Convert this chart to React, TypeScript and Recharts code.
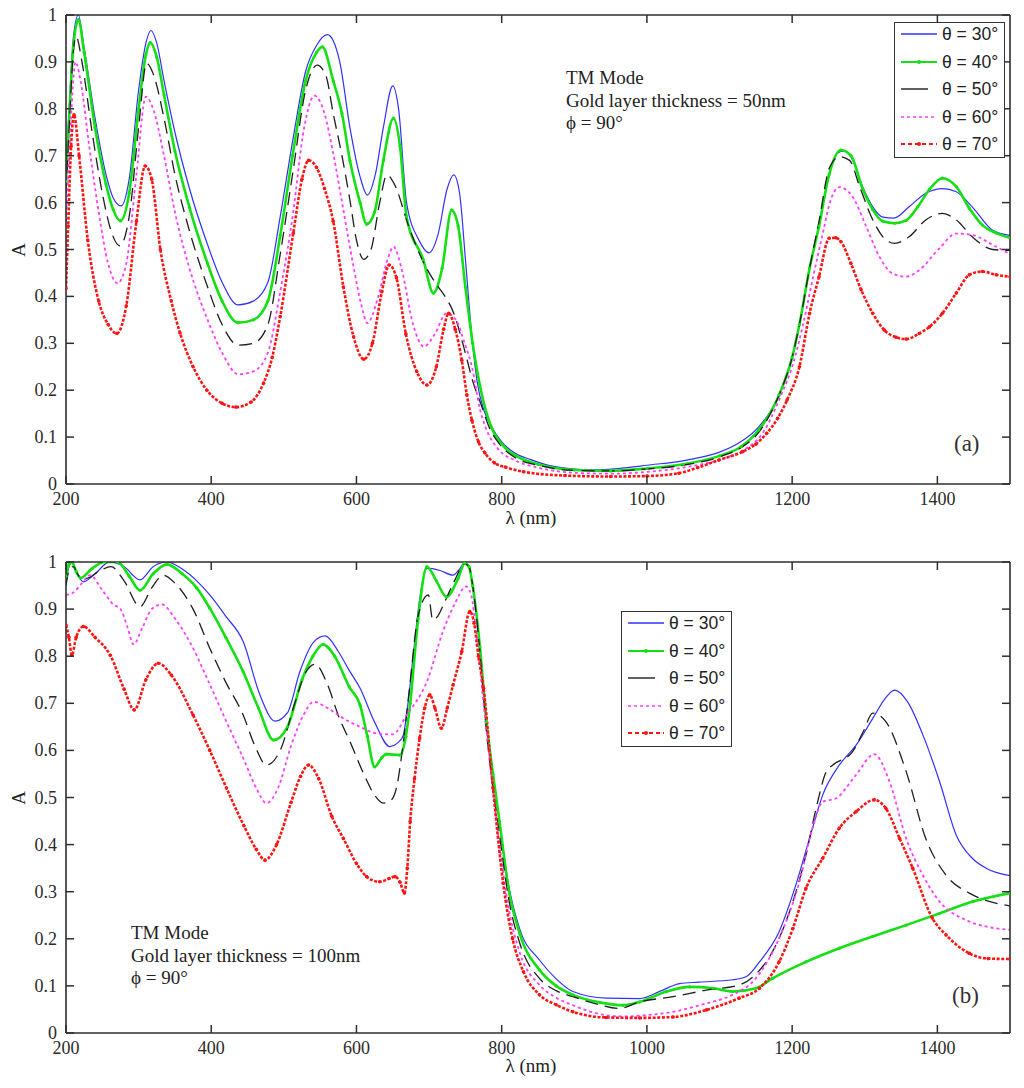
import React from 'react';
import { LineChart, Line, XAxis, YAxis } from 'recharts';

type Pt = [number, number];

const xTicks = [200, 400, 600, 800, 1000, 1200, 1400];
const yTicks = [0, 0.1, 0.2, 0.3, 0.4, 0.5, 0.6, 0.7, 0.8, 0.9, 1];
const xDomain: [number, number] = [200, 1500];
const seriesNames = ['θ = 30°', 'θ = 40°', 'θ = 50°', 'θ = 60°', 'θ = 70°'];
const noteA = ['TM Mode', 'Gold layer thickness = 50nm', 'ϕ = 90°'];
const noteB = ['TM Mode', 'Gold layer thickness = 100nm', 'ϕ = 90°'];
const xTitle = 'λ (nm)';
const yTitle = 'A';

// ---- Panel (a): gold layer 50 nm ----
const a30: Pt[] = [
  [200, 0.68], [205, 0.82], [210, 0.95], [217, 1.0], [225, 0.93], [240, 0.78], [255, 0.66], [265, 0.61], [276, 0.593],
  [287, 0.65], [300, 0.84], [310, 0.94], [317, 0.967], [325, 0.94], [335, 0.86], [350, 0.75], [370, 0.63], [395, 0.51],
  [415, 0.43], [437, 0.382], [458, 0.39], [478, 0.43], [495, 0.57], [512, 0.73], [530, 0.88], [545, 0.935], [560, 0.958],
  [568, 0.945], [577, 0.9], [591, 0.76], [605, 0.655], [615, 0.616], [626, 0.66], [637, 0.76], [650, 0.849], [658, 0.8],
  [669, 0.6], [686, 0.52], [700, 0.493], [712, 0.53], [725, 0.63], [734, 0.659], [742, 0.62], [750, 0.48], [758, 0.33],
  [766, 0.22], [776, 0.155], [786, 0.122], [800, 0.09], [818, 0.066], [840, 0.052], [870, 0.038], [900, 0.032], [930, 0.03],
  [960, 0.033], [1000, 0.04], [1055, 0.051], [1100, 0.068], [1127, 0.088], [1154, 0.122], [1182, 0.19], [1200, 0.27],
  [1210, 0.34], [1224, 0.46], [1237, 0.55], [1251, 0.66], [1262, 0.705], [1272, 0.71], [1281, 0.698], [1297, 0.634],
  [1311, 0.591], [1325, 0.569], [1340, 0.567], [1361, 0.591], [1384, 0.62], [1407, 0.63], [1426, 0.623], [1448, 0.591],
  [1476, 0.541], [1500, 0.53],
];
const a40: Pt[] = [
  [200, 0.645], [205, 0.8], [210, 0.93], [217, 0.99], [225, 0.92], [240, 0.76], [255, 0.64], [265, 0.585], [275, 0.561],
  [287, 0.62], [300, 0.8], [310, 0.915], [316, 0.941], [325, 0.91], [335, 0.83], [350, 0.71], [370, 0.59], [395, 0.47],
  [415, 0.39], [437, 0.344], [458, 0.35], [478, 0.39], [495, 0.53], [512, 0.7], [530, 0.86], [545, 0.92], [553, 0.932],
  [568, 0.86], [580, 0.79], [591, 0.69], [605, 0.6], [614, 0.554], [625, 0.58], [637, 0.69], [651, 0.78], [660, 0.72],
  [669, 0.57], [692, 0.478], [706, 0.407], [718, 0.46], [731, 0.584], [740, 0.55], [750, 0.42], [760, 0.3], [770, 0.21],
  [786, 0.12], [800, 0.085], [820, 0.06], [850, 0.042], [900, 0.03], [950, 0.028], [1000, 0.033], [1050, 0.042],
  [1100, 0.06], [1130, 0.08], [1154, 0.115], [1182, 0.19], [1200, 0.27], [1210, 0.34], [1224, 0.46], [1237, 0.55],
  [1251, 0.66], [1267, 0.712], [1281, 0.7], [1297, 0.63], [1311, 0.585], [1325, 0.56], [1341, 0.556], [1357, 0.562],
  [1373, 0.591], [1389, 0.628], [1407, 0.652], [1426, 0.634], [1444, 0.588], [1462, 0.552], [1481, 0.535], [1500, 0.525],
];
const a50: Pt[] = [
  [200, 0.62], [205, 0.78], [210, 0.92], [214, 0.954], [222, 0.9], [235, 0.76], [250, 0.62], [262, 0.54], [274, 0.508],
  [287, 0.57], [300, 0.76], [311, 0.897], [320, 0.875], [335, 0.78], [350, 0.66], [370, 0.54], [395, 0.42], [415, 0.34],
  [437, 0.296], [458, 0.3], [478, 0.34], [495, 0.49], [512, 0.66], [530, 0.84], [546, 0.893], [558, 0.87], [568, 0.79],
  [580, 0.7], [591, 0.605], [600, 0.52], [610, 0.479], [620, 0.5], [632, 0.6], [642, 0.659], [652, 0.64], [672, 0.549],
  [690, 0.48], [709, 0.428], [722, 0.4], [734, 0.364], [750, 0.279], [760, 0.22], [771, 0.172], [783, 0.12], [796, 0.087],
  [820, 0.055], [850, 0.04], [900, 0.029], [950, 0.028], [1000, 0.032], [1050, 0.04], [1100, 0.058], [1130, 0.078],
  [1154, 0.11], [1182, 0.19], [1200, 0.27], [1210, 0.34], [1224, 0.46], [1237, 0.56], [1251, 0.673], [1265, 0.698],
  [1279, 0.69], [1293, 0.634], [1309, 0.57], [1325, 0.527], [1341, 0.513], [1361, 0.527], [1384, 0.563], [1407, 0.577],
  [1426, 0.563], [1448, 0.527], [1476, 0.5], [1500, 0.498],
];
const a60: Pt[] = [
  [200, 0.56], [205, 0.72], [210, 0.86], [213, 0.9], [220, 0.86], [232, 0.72], [245, 0.58], [258, 0.47], [271, 0.428],
  [283, 0.47], [297, 0.66], [310, 0.826], [320, 0.8], [335, 0.7], [350, 0.58], [370, 0.46], [395, 0.35], [415, 0.28],
  [437, 0.234], [458, 0.24], [478, 0.28], [495, 0.41], [512, 0.57], [528, 0.76], [542, 0.828], [556, 0.79], [568, 0.705],
  [582, 0.584], [596, 0.463], [607, 0.38], [615, 0.343], [630, 0.4], [643, 0.48], [651, 0.506], [662, 0.46], [678, 0.34],
  [693, 0.293], [708, 0.32], [724, 0.364], [737, 0.35], [749, 0.3], [759, 0.25], [770, 0.16], [778, 0.12], [795, 0.075],
  [819, 0.05], [850, 0.035], [900, 0.024], [950, 0.022], [1000, 0.026], [1050, 0.035], [1100, 0.052], [1130, 0.07],
  [1160, 0.11], [1185, 0.19], [1200, 0.25], [1215, 0.34], [1230, 0.45], [1243, 0.54], [1251, 0.595], [1265, 0.633],
  [1283, 0.613], [1302, 0.549], [1320, 0.485], [1338, 0.449], [1357, 0.442], [1375, 0.456], [1403, 0.503], [1426, 0.534],
  [1448, 0.531], [1476, 0.51], [1500, 0.49],
];
const a70: Pt[] = [
  [200, 0.417], [203, 0.55], [207, 0.72], [211, 0.787], [218, 0.7], [230, 0.52], [245, 0.39], [258, 0.34], [270, 0.321],
  [283, 0.38], [297, 0.56], [309, 0.678], [318, 0.65], [330, 0.5], [345, 0.39], [357, 0.322], [375, 0.25], [394, 0.2],
  [415, 0.172], [434, 0.164], [455, 0.175], [472, 0.215], [484, 0.27], [495, 0.357], [513, 0.535], [525, 0.65], [534, 0.69],
  [545, 0.675], [556, 0.63], [568, 0.56], [582, 0.42], [596, 0.314], [610, 0.266], [622, 0.3], [635, 0.41], [645, 0.467],
  [655, 0.44], [668, 0.32], [683, 0.24], [697, 0.211], [710, 0.25], [720, 0.33], [727, 0.364], [736, 0.33], [745, 0.264],
  [752, 0.19], [759, 0.136], [768, 0.09], [777, 0.066], [790, 0.045], [805, 0.036], [830, 0.026], [887, 0.018], [950, 0.016],
  [1000, 0.017], [1044, 0.023], [1070, 0.035], [1099, 0.051], [1132, 0.069], [1150, 0.085], [1165, 0.108], [1180, 0.14],
  [1193, 0.179], [1210, 0.25], [1224, 0.364], [1237, 0.442], [1251, 0.524], [1260, 0.525], [1267, 0.517], [1281, 0.47],
  [1295, 0.414], [1311, 0.364], [1327, 0.328], [1343, 0.313], [1357, 0.309], [1375, 0.321], [1389, 0.335], [1407, 0.364],
  [1426, 0.407], [1444, 0.446], [1462, 0.453], [1481, 0.446], [1500, 0.442],
];

// ---- Panel (b): gold layer 100 nm ----
const b30: Pt[] = [
  [200, 0.96], [204, 0.99], [208, 1.0], [215, 0.975], [224, 0.958], [240, 0.975], [260, 1.0], [280, 0.99], [302, 0.962],
  [320, 0.99], [339, 1.0], [360, 0.985], [380, 0.96], [398, 0.93], [420, 0.885], [444, 0.831], [467, 0.718], [488, 0.662],
  [505, 0.68], [522, 0.767], [541, 0.83], [557, 0.843], [575, 0.81], [590, 0.77], [605, 0.732], [625, 0.66], [646, 0.608],
  [656, 0.615], [664, 0.63], [671, 0.7], [678, 0.8], [688, 0.93], [697, 0.987], [715, 0.982], [733, 0.972], [742, 0.985],
  [749, 0.998], [755, 0.99], [760, 0.95], [770, 0.82], [779, 0.661], [788, 0.55], [797, 0.449], [809, 0.318], [825, 0.22],
  [852, 0.155], [875, 0.115], [898, 0.088], [944, 0.074], [990, 0.073], [1020, 0.09], [1045, 0.105], [1072, 0.108],
  [1118, 0.113], [1137, 0.12], [1155, 0.151], [1182, 0.215], [1205, 0.314], [1228, 0.435], [1242, 0.505], [1265, 0.569],
  [1288, 0.611], [1311, 0.668], [1328, 0.71], [1341, 0.728], [1359, 0.703], [1380, 0.633], [1403, 0.534], [1426, 0.42],
  [1448, 0.371], [1467, 0.35], [1500, 0.334],
];
const b40: Pt[] = [
  [200, 0.97], [204, 0.995], [208, 1.0], [214, 0.98], [220, 0.966], [235, 0.985], [253, 1.0], [271, 1.0], [287, 0.97],
  [302, 0.94], [320, 0.975], [339, 0.995], [360, 0.975], [380, 0.945], [398, 0.902], [420, 0.84], [444, 0.767], [465, 0.69],
  [486, 0.622], [505, 0.65], [525, 0.75], [540, 0.8], [554, 0.825], [570, 0.8], [590, 0.735], [605, 0.696], [615, 0.63],
  [625, 0.565], [635, 0.585], [641, 0.592], [660, 0.59], [668, 0.63], [674, 0.7], [685, 0.88], [697, 0.99], [710, 0.96],
  [724, 0.926], [740, 0.965], [749, 0.997], [755, 0.99], [760, 0.95], [770, 0.82], [779, 0.661], [788, 0.55], [797, 0.449],
  [809, 0.31], [825, 0.21], [852, 0.134], [875, 0.1], [898, 0.081], [935, 0.065], [967, 0.059], [990, 0.066], [1027, 0.088],
  [1059, 0.098], [1091, 0.095], [1118, 0.088], [1150, 0.095], [1173, 0.116], [1219, 0.151], [1265, 0.18], [1311, 0.205],
  [1357, 0.229], [1403, 0.254], [1449, 0.279], [1500, 0.297],
];
const b50: Pt[] = [
  [200, 0.95], [205, 0.985], [210, 0.99], [218, 0.97], [228, 0.965], [245, 0.98], [262, 0.99], [280, 0.96], [302, 0.905],
  [318, 0.945], [334, 0.972], [350, 0.955], [375, 0.9], [398, 0.817], [420, 0.745], [444, 0.675], [460, 0.61], [476, 0.569],
  [495, 0.6], [515, 0.7], [530, 0.765], [543, 0.783], [560, 0.74], [576, 0.67], [591, 0.619], [610, 0.55], [625, 0.505],
  [637, 0.488], [648, 0.495], [655, 0.52], [664, 0.61], [673, 0.732], [685, 0.887], [699, 0.93], [705, 0.877], [712, 0.885],
  [720, 0.91], [735, 0.96], [749, 0.996], [755, 0.99], [760, 0.95], [770, 0.81], [779, 0.64], [788, 0.52], [797, 0.42],
  [809, 0.29], [825, 0.19], [852, 0.116], [875, 0.09], [898, 0.077], [930, 0.062], [962, 0.052], [990, 0.066], [1036, 0.077],
  [1082, 0.091], [1127, 0.102], [1150, 0.125], [1173, 0.173], [1201, 0.279], [1219, 0.378], [1233, 0.477], [1247, 0.555],
  [1256, 0.569], [1283, 0.597], [1298, 0.64], [1311, 0.679], [1329, 0.661], [1357, 0.555], [1384, 0.413], [1412, 0.335],
  [1444, 0.297], [1470, 0.28], [1500, 0.27],
];
const b60: Pt[] = [
  [200, 0.93], [210, 0.935], [222, 0.955], [233, 0.972], [250, 0.94], [265, 0.91], [275, 0.9], [285, 0.86], [293, 0.825],
  [305, 0.86], [318, 0.9], [332, 0.91], [350, 0.88], [375, 0.817], [398, 0.74], [421, 0.661], [445, 0.58], [462, 0.52],
  [476, 0.488], [492, 0.52], [510, 0.61], [527, 0.675], [541, 0.703], [560, 0.69], [582, 0.668], [605, 0.65], [628, 0.636],
  [650, 0.634], [669, 0.675], [697, 0.746], [719, 0.852], [735, 0.91], [751, 0.948], [758, 0.93], [765, 0.85], [775, 0.7],
  [785, 0.56], [797, 0.4], [809, 0.27], [825, 0.17], [852, 0.102], [875, 0.075], [898, 0.059], [930, 0.042], [967, 0.035],
  [1000, 0.038], [1036, 0.045], [1082, 0.063], [1118, 0.081], [1150, 0.116], [1182, 0.201], [1210, 0.321], [1228, 0.435],
  [1242, 0.491], [1260, 0.498], [1288, 0.548], [1313, 0.592], [1334, 0.534], [1357, 0.413], [1380, 0.335], [1403, 0.279],
  [1439, 0.24], [1470, 0.225], [1500, 0.219],
];
const b70: Pt[] = [
  [200, 0.866], [204, 0.84], [208, 0.802], [214, 0.84], [224, 0.863], [240, 0.84], [261, 0.802], [280, 0.73], [294, 0.686],
  [310, 0.75], [327, 0.785], [345, 0.76], [375, 0.675], [398, 0.6], [421, 0.52], [445, 0.44], [462, 0.39], [474, 0.367],
  [490, 0.4], [510, 0.49], [523, 0.545], [534, 0.569], [548, 0.54], [566, 0.46], [582, 0.413], [600, 0.36], [614, 0.332],
  [632, 0.321], [645, 0.328], [653, 0.332], [660, 0.32], [666, 0.297], [670, 0.35], [674, 0.449], [680, 0.54], [687, 0.626],
  [694, 0.69], [701, 0.718], [708, 0.69], [717, 0.647], [725, 0.69], [733, 0.739], [745, 0.81], [756, 0.895], [762, 0.87],
  [768, 0.8], [775, 0.732], [788, 0.52], [802, 0.318], [815, 0.2], [830, 0.13], [852, 0.081], [875, 0.06], [898, 0.045],
  [944, 0.033], [990, 0.032], [1036, 0.034], [1082, 0.049], [1127, 0.074], [1155, 0.095], [1182, 0.151], [1201, 0.222],
  [1219, 0.307], [1242, 0.371], [1265, 0.435], [1288, 0.47], [1313, 0.495], [1329, 0.477], [1348, 0.413], [1366, 0.35],
  [1393, 0.244], [1412, 0.208], [1444, 0.169], [1470, 0.158], [1500, 0.157],
];

const panelA = [a30, a40, a50, a60, a70];
const panelB = [b30, b40, b50, b60, b70];

type Sty = { color: string; width: number; dash?: string; dot?: number; legendDash?: string };
const styles: Sty[] = [
  { color: '#3030ff', width: 1.2 },
  { color: '#14e014', width: 2.6, dot: 1.6 },
  { color: '#1e1e1e', width: 1.3, dash: '13 7', legendDash: '27 20' },
  { color: '#ff3cff', width: 1.8, dash: '3 3' },
  { color: '#ff1414', width: 2.6, dash: '3 1.6', dot: 1.8, legendDash: '4 3' },
];

const SERIF = '"Liberation Serif", "Times New Roman", Times, serif';
const SANS = '"Liberation Sans", Arial, Helvetica, sans-serif';
const AX = '#2e2e2e';
const TICK_LEN = 8;
const TICK_W = 1.5;
const PLOT_LEFT = 66;
const PLOT_RIGHT = 1010;

const rows = (pts: Pt[]) => pts.map(([x, y]) => ({ x, y }));

function Panel({ series, top, mTop, mBottom, height }: { series: Pt[][]; top: number; mTop: number; mBottom: number; height: number }) {
  const plotTop = mTop + 1;
  const plotBottom = height - mBottom - 30;

  const bottomTick = (p: any) => (
    <g>
      <path d={`M${p.x},${plotBottom} L${p.x},${plotBottom - TICK_LEN}`} stroke={AX} strokeWidth={TICK_W} fill="none" />
      <text x={p.x} y={plotBottom + 21} textAnchor="middle" fontFamily={SERIF} fontSize={18} fill="#2a2a2a">
        {String(p.payload.value)}
      </text>
    </g>
  );
  const topTick = (p: any) => (
    <path d={`M${p.x},${plotTop} L${p.x},${plotTop + TICK_LEN}`} stroke={AX} strokeWidth={TICK_W} fill="none" />
  );
  const leftTick = (p: any) => (
    <g>
      <path d={`M${PLOT_LEFT},${p.y} L${PLOT_LEFT + TICK_LEN},${p.y}`} stroke={AX} strokeWidth={TICK_W} fill="none" />
      <text x={57} y={p.y + 6} textAnchor="end" fontFamily={SERIF} fontSize={18} fill="#2a2a2a">
        {String(p.payload.value)}
      </text>
    </g>
  );
  const rightTick = (p: any) => (
    <path d={`M${PLOT_RIGHT},${p.y} L${PLOT_RIGHT - TICK_LEN},${p.y}`} stroke={AX} strokeWidth={TICK_W} fill="none" />
  );

  const axisLine = { stroke: AX, strokeWidth: 1.6 };

  return (
    <div style={{ position: 'absolute', left: 0, top, width: 1024, height }}>
      <LineChart width={1024} height={height} margin={{ top: mTop, right: 13, bottom: mBottom, left: 16 }}>
        <XAxis
          xAxisId="b"
          dataKey="x"
          type="number"
          domain={xDomain}
          ticks={xTicks}
          interval={0}
          allowDataOverflow
          height={30}
          tickLine={false}
          axisLine={axisLine}
          tick={bottomTick}
        />
        <XAxis
          xAxisId="t"
          orientation="top"
          dataKey="x"
          type="number"
          domain={xDomain}
          ticks={xTicks}
          interval={0}
          allowDataOverflow
          height={1}
          tickLine={false}
          axisLine={axisLine}
          tick={topTick}
        />
        <YAxis
          yAxisId="l"
          type="number"
          domain={[0, 1]}
          ticks={yTicks}
          interval={0}
          allowDataOverflow
          width={50}
          tickLine={false}
          axisLine={axisLine}
          tick={leftTick}
        />
        <YAxis
          yAxisId="r"
          orientation="right"
          type="number"
          domain={[0, 1]}
          ticks={yTicks}
          interval={0}
          allowDataOverflow
          width={1}
          tickLine={false}
          axisLine={axisLine}
          tick={rightTick}
        />
        {series.map((pts, i) => {
          const s = styles[i];
          return (
            <Line
              key={i}
              xAxisId="b"
              yAxisId="l"
              data={rows(pts)}
              dataKey="y"
              name={seriesNames[i]}
              type="monotone"
              stroke={s.color}
              strokeWidth={s.width}
              strokeDasharray={s.dash}
              dot={s.dot ? { r: s.dot, fill: s.color, stroke: 'none' } : false}
              activeDot={false}
              isAnimationActive={false}
            />
          );
        })}
      </LineChart>
    </div>
  );
}

function LegendBox({ left, top }: { left: number; top: number }) {
  return (
    <div
      style={{
        position: 'absolute',
        left,
        top,
        width: 111,
        height: 136,
        border: '1.6px solid #333',
        background: '#fff',
        boxSizing: 'border-box',
      }}
    >
      {seriesNames.map((n, i) => {
        const s = styles[i];
        return (
          <div
            key={n}
            style={{ position: 'absolute', left: 5, top: 11 + i * 27.5 - 11, height: 22, display: 'flex', alignItems: 'center' }}
          >
            <svg width={38} height={10} style={{ display: 'block' }}>
              <line
                x1={1}
                y1={5}
                x2={37}
                y2={5}
                stroke={s.color}
                strokeWidth={i === 1 || i === 4 ? 1.8 : Math.max(1.4, s.width * 0.8)}
                strokeDasharray={s.legendDash || s.dash}
              />
              {s.dot ? <circle cx={19} cy={5} r={2} fill={s.color} /> : null}
            </svg>
            <span style={{ marginLeft: 4, fontFamily: SANS, fontSize: 17.5, color: '#222', whiteSpace: 'nowrap', lineHeight: '22px' }}>
              {n}
            </span>
          </div>
        );
      })}
    </div>
  );
}

function Note({ left, top, lines }: { left: number; top: number; lines: string[] }) {
  return (
    <div style={{ position: 'absolute', left, top, fontFamily: SERIF, fontSize: 19, lineHeight: '22.5px', color: '#222', whiteSpace: 'nowrap' }}>
      {lines.map((l) => (
        <div key={l}>{l}</div>
      ))}
    </div>
  );
}

function AxisTitles({ plotTop, plotBottom, xTitleTop }: { plotTop: number; plotBottom: number; xTitleTop: number }) {
  const cy = (plotTop + plotBottom) / 2;
  return (
    <>
      <div
        style={{
          position: 'absolute',
          left: 19,
          top: cy,
          transform: 'translate(-50%, -50%) rotate(-90deg)',
          fontFamily: SERIF,
          fontSize: 19,
          color: '#222',
        }}
      >
        {yTitle}
      </div>
      <div
        style={{
          position: 'absolute',
          left: 531,
          top: xTitleTop,
          transform: 'translate(-50%, -50%)',
          fontFamily: SERIF,
          fontSize: 19,
          color: '#222',
          whiteSpace: 'nowrap',
        }}
      >
        {xTitle}
      </div>
    </>
  );
}

export default function App() {
  return (
    <div style={{ position: 'absolute', left: 0, top: 0, width: 1024, height: 1088, background: '#fff', overflow: 'hidden' }}>
      <Panel series={panelA} top={0} height={540} mTop={14} mBottom={26} />
      <Panel series={panelB} top={548} height={540} mTop={13} mBottom={25} />

      <AxisTitles plotTop={15} plotBottom={484} xTitleTop={518} />
      <AxisTitles plotTop={562} plotBottom={1033} xTitleTop={1066} />

      <LegendBox left={894} top={22} />
      <LegendBox left={621} top={611} />

      <Note left={566} top={67} lines={noteA} />
      <Note left={131} top={922} lines={noteB} />

      <div style={{ position: 'absolute', left: 954, top: 431, fontFamily: SERIF, fontSize: 23, color: '#333' }}>(a)</div>
      <div style={{ position: 'absolute', left: 952, top: 983, fontFamily: SERIF, fontSize: 23, color: '#333' }}>(b)</div>
    </div>
  );
}
